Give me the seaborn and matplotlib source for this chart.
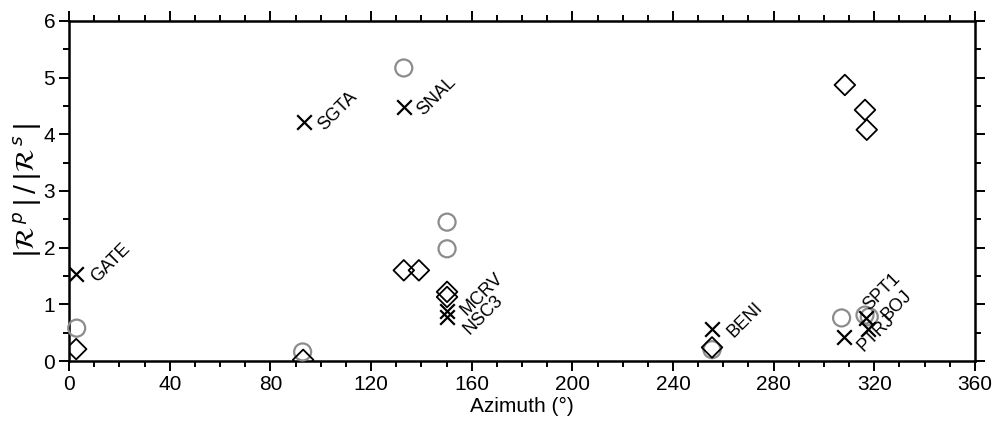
import matplotlib
matplotlib.use("Agg")
import matplotlib.pyplot as plt
from matplotlib.ticker import MultipleLocator
import seaborn as sns

# crosses: station ratio values
cross_az = [2.8, 93.4, 133.0, 150.2, 150.2, 255.5, 308.0, 316.8, 317.4]
cross_val = [1.53, 4.22, 4.48, 0.88, 0.78, 0.56, 0.43, 0.76, 0.56]
# gray circles
circ_az = [3.0, 92.8, 133.0, 150.2, 150.2, 255.5, 307.0, 316.3, 318.0]
circ_val = [0.58, 0.16, 5.17, 2.45, 1.98, 0.20, 0.76, 0.81, 0.78]
# diamonds
diam_az = [2.8, 93.0, 133.0, 139.0, 150.2, 150.2, 255.5, 308.3, 316.3, 317.0]
diam_val = [0.21, 0.02, 1.60, 1.60, 1.22, 1.13, 0.24, 4.87, 4.43, 4.08]

# station labels attached to crosses
stations = ["GATE", "SGTA", "SNAL", "MCRV", "NSC3", "BENI", "PTRJ", "SPT1", "BOJ"]
label_offsets = [(13, -4), (12, -4), (12, -4), (12, -1), (14, -11), (13, -4), (12, -9), (0, 7), (12, 8)]

sns.set_style("ticks")
plt.rcParams["font.family"] = ["Liberation Sans", "DejaVu Sans"]
plt.rcParams["mathtext.fontset"] = "dejavusans"
for key in ["text.color", "axes.labelcolor", "xtick.color", "ytick.color", "axes.edgecolor"]:
    plt.rcParams[key] = "black"

fig, ax = plt.subplots(figsize=(10.02, 4.36), dpi=100)
fig.subplots_adjust(left=0.069, right=0.973, bottom=0.172, top=0.952)

sns.scatterplot(x=circ_az, y=circ_val, marker="o", s=150, facecolor="none",
                edgecolor="#8c8c8c", linewidth=1.6, ax=ax, clip_on=False, zorder=3)
sns.scatterplot(x=diam_az, y=diam_val, marker="D", s=110, facecolor="none",
                edgecolor="black", linewidth=1.3, ax=ax, zorder=4)
sns.scatterplot(x=cross_az, y=cross_val, marker="x", s=110, color="black",
                linewidth=1.6, ax=ax, zorder=5)

for name, x, y, off in zip(stations, cross_az, cross_val, label_offsets):
    ax.annotate(name, (x, y), xytext=off, textcoords="offset points",
                rotation=45, rotation_mode="anchor", ha="left", va="center",
                fontsize=13)

ax.set_xlim(0, 360)
ax.set_ylim(0, 6)
ax.xaxis.set_major_locator(MultipleLocator(40))
ax.xaxis.set_minor_locator(MultipleLocator(10))
ax.yaxis.set_major_locator(MultipleLocator(1))
ax.yaxis.set_minor_locator(MultipleLocator(0.5))
ax.tick_params(which="both", direction="out", top=True, right=True,
               width=1.4, labelsize=15, pad=3)
ax.tick_params(which="major", length=7)
ax.tick_params(which="minor", length=4)
for sp in ax.spines.values():
    sp.set_visible(True)
    sp.set_linewidth(1.8)

ax.set_xlabel("Azimuth (°)", fontsize=15, labelpad=2)
ax.set_ylabel(r"$|\mathcal{R}^{\,p}\,|\,/\,|\mathcal{R}^{\,s}\,|$", fontsize=19, labelpad=0)

fig.savefig("out.png", dpi=100)
